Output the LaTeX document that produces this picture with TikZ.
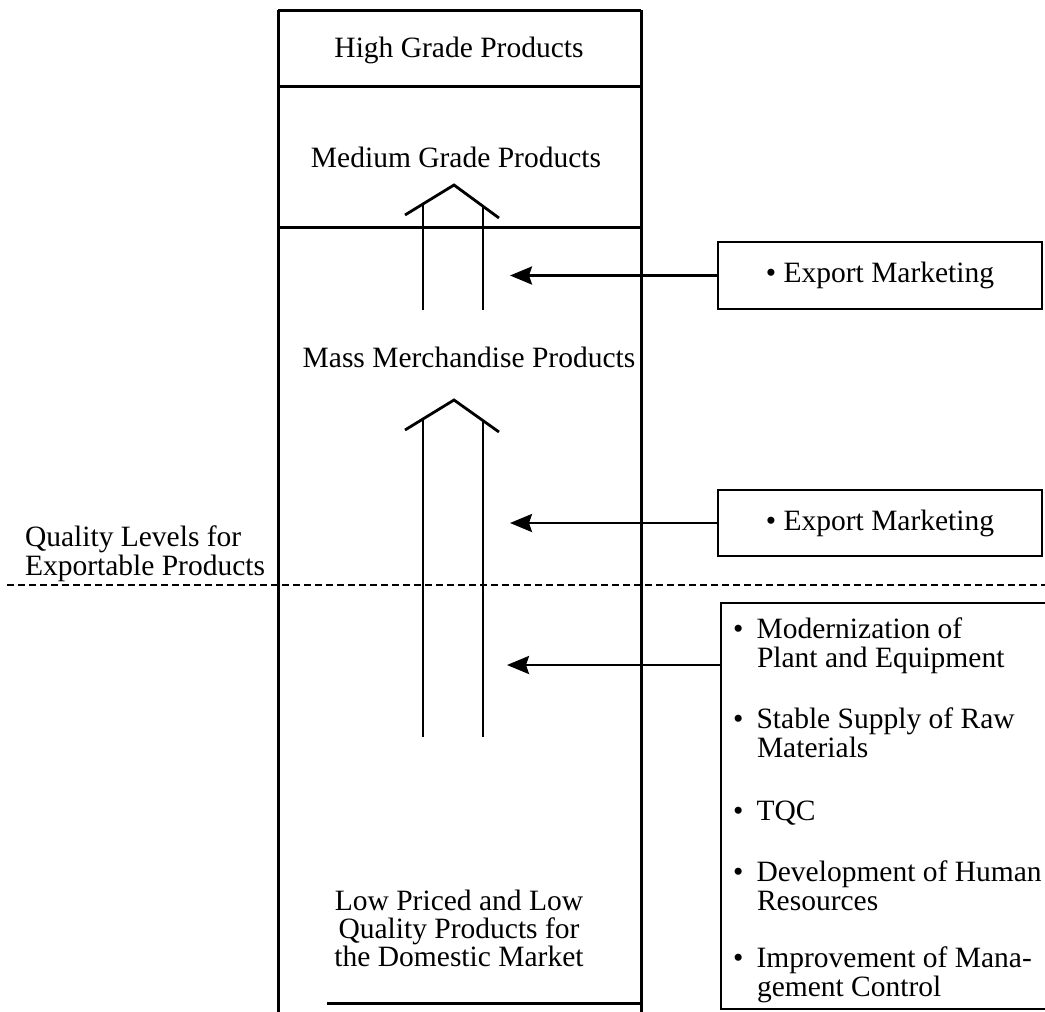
\documentclass[tikz,border=0pt]{standalone}
\usepackage{fontspec}
\setmainfont{Liberation Serif}
\usetikzlibrary{arrows.meta}
\begin{document}
\begin{tikzpicture}[x=1pt,y=-1pt,
  every node/.style={inner sep=0pt, outer sep=0pt},
  lbl/.style={font=\fontsize{29.5}{30}\selectfont},
  colline/.style={line width=3pt},
  chev/.style={line width=2.8pt},
  boxnode/.style={draw, line width=2.6pt, lbl},
  arr/.style={line width=2.6pt, -{Stealth[length=22pt, width=18pt, inset=3pt]}},
  dashline/.style={line width=1.5pt, dash pattern=on 7pt off 4pt}
]
\useasboundingbox (0,0) rectangle (1045,1012);
\clip (0,0) rectangle (1045,1012);

% product column
\draw[colline] (278,10) -- (641,10);
\draw[colline] (278,86) -- (641,86);
\draw[colline] (278,227) -- (641,227);
\draw[colline] (278,10) -- (278,1012);
\draw[colline] (641,10) -- (641,1012);
\draw[colline] (327,1003) -- (641,1003);

\node[lbl, anchor=base] (high) at (459,57) {High Grade Products};
\node[lbl, anchor=base] (medium) at (456,167) {Medium Grade Products};
\node[lbl, anchor=base] (mass) at (469,367) {Mass Merchandise Products};
\node[lbl, anchor=base] (low1) at (459,910) {Low Priced and Low};
\node[lbl, anchor=base] (low2) at (459,938) {Quality Products for};
\node[lbl, anchor=base] (low3) at (459,966) {the Domestic Market};

% upward steps
\draw[chev] (405,215) -- (454,185) -- (499,218);
\draw[chev] (423,204) -- (423,310);
\draw[chev] (483,206) -- (483,310);
\draw[chev] (405,430) -- (454,400) -- (499,432);
\draw[chev] (423,419) -- (423,737);
\draw[chev] (483,421) -- (483,737);

% export threshold
\draw[dashline] (7,585) -- (1045,585);
\node[lbl, anchor=base west] (ql1) at (25,546) {Quality Levels for};
\node[lbl, anchor=base west] (ql2) at (25,575) {Exportable Products};

% measures
\node[boxnode, minimum width=324pt, minimum height=67pt] (em1) at (880,275.5) {• Export Marketing};
\node[boxnode, minimum width=324pt, minimum height=66pt] (em2) at (880,523) {• Export Marketing};
\node[boxnode, minimum width=330pt, minimum height=406pt, anchor=north west] (b3) at (721,603) {};

\node[lbl, anchor=base west] (m1a) at (733,638) {•\hspace{0.45em}Modernization of};
\node[lbl, anchor=base west] (m1b) at (757,667) {Plant and Equipment};
\node[lbl, anchor=base west] (m2a) at (733,728) {•\hspace{0.45em}Stable Supply of Raw};
\node[lbl, anchor=base west] (m2b) at (757,757) {Materials};
\node[lbl, anchor=base west] (m3a) at (733,820) {•\hspace{0.45em}TQC};
\node[lbl, anchor=base west] (m4a) at (733,881) {•\hspace{0.45em}Development of Human};
\node[lbl, anchor=base west] (m4b) at (757,910) {Resources};
\node[lbl, anchor=base west] (m5a) at (733,967) {•\hspace{0.45em}Improvement of Mana-};
\node[lbl, anchor=base west] (m5b) at (757,996) {gement Control};

% connectors
\coordinate (t1) at (510,275.5);
\coordinate (t2) at (510,523);
\coordinate (t3) at (507,665);
\draw[arr] (em1.west) -- (t1);
\draw[arr] (em2.west) -- (t2);
\draw[arr] (b3.west |- t3) -- (t3);
\end{tikzpicture}
\end{document}
